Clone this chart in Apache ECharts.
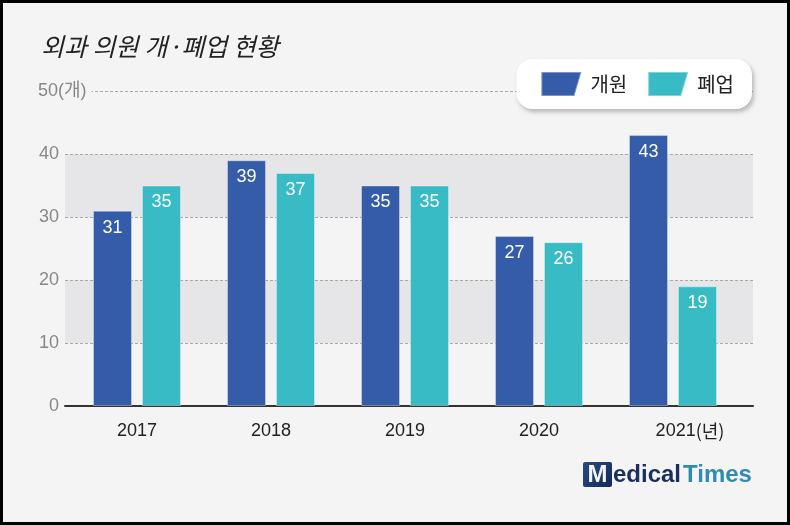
<!DOCTYPE html>
<html>
<head>
<meta charset="utf-8">
<script src="https://cdn.jsdelivr.net/npm/echarts@6/dist/echarts.min.js"></script>
<style>
  html, body { margin: 0; padding: 0; background: #f4f4f4; }
  #wrap { position: relative; width: 790px; height: 525px; }
  #chart { position: absolute; left: 0; top: 0; width: 790px; height: 525px; }
  #frame { position: absolute; left: 0; top: 0; width: 790px; height: 525px; box-sizing: border-box; border: 3px solid #000; pointer-events: none; }
</style>
</head>
<body>
<div id="wrap"><div id="chart"></div><div id="frame"></div></div>
<script>
const titleText = '외과 의원 개·폐업 현황';
const years = ['2017', '2018', '2019', '2020', '2021'];
const seriesNames = ['개원', '폐업'];
const openValues = [31, 39, 35, 27, 43];
const closeValues = [35, 37, 35, 26, 19];
const yTicks = [0, 10, 20, 30, 40, 50];
const yUnit = '(개)';
const yearUnit = '(년)';

const FONT = "'Liberation Sans', 'Noto Sans CJK KR', sans-serif";
const BLUE = '#345ca8';
const TEAL = '#38bbc4';

const chart = echarts.init(document.getElementById('chart'), null, { renderer: 'canvas' });

const option = {
  backgroundColor: '#f4f4f4',
  animation: false,
  textStyle: { fontFamily: FONT },
  title: {
    text: titleText,
    left: 36,
    top: 29,
    textStyle: { fontFamily: "'Noto Sans CJK KR', sans-serif", fontSize: 25, fontWeight: 'normal', fontStyle: 'italic', color: '#222' }
  },
  legend: {
    right: 38,
    top: 59,
    data: seriesNames,
    icon: 'path://M0,0L40,0L33,24L0,24Z',
    itemWidth: 40,
    itemHeight: 24,
    itemGap: 20,
    padding: [12, 18, 12, 24],
    backgroundColor: '#ffffff',
    borderRadius: 16,
    shadowColor: 'rgba(0,0,0,0.25)',
    shadowBlur: 4,
    shadowOffsetX: 2,
    shadowOffsetY: 3,
    textStyle: { fontFamily: "'Noto Sans CJK KR', sans-serif", fontSize: 20, color: '#222', padding: [0, 0, 0, 4] }
  },
  grid: [
    { left: 65, right: 37, top: 91, bottom: 119 },
    { left: 70, right: 50, top: 91, bottom: 119 }
  ],
  xAxis: [
    {
      gridIndex: 0, type: 'value', min: 0, max: 1,
      axisLine: { show: true, onZero: false, lineStyle: { color: '#333', width: 2 } },
      axisTick: { show: false }, axisLabel: { show: false }, splitLine: { show: false }
    },
    {
      gridIndex: 1, type: 'category', data: years,
      axisLine: { show: false }, axisTick: { show: false },
      axisLabel: {
        interval: 0,
        margin: 16,
        fontSize: 18,
        color: '#222',
        formatter: function (v, i) {
          return i === years.length - 1 ? '{s|}{y|' + v + '}{u|' + yearUnit + '}' : v;
        },
        rich: {
          s: { width: 34, fontSize: 18 },
          y: { fontSize: 18, color: '#222', fontFamily: FONT },
          u: { fontSize: 18, color: '#222', fontFamily: "'Noto Sans CJK KR', sans-serif" }
        }
      }
    }
  ],
  yAxis: [
    {
      gridIndex: 0, type: 'value', min: yTicks[0], max: yTicks[yTicks.length - 1], interval: 10,
      axisLine: { show: false }, axisTick: { show: false },
      splitLine: { show: true, lineStyle: { color: '#a9a9a9', type: [3, 2], width: 1 } },
      splitArea: { show: true, areaStyle: { color: ['rgba(0,0,0,0)', '#e6e6e8'] } },
      axisLabel: {
        align: 'left',
        margin: 27,
        formatter: function (v) {
          return v === yTicks[yTicks.length - 1] ? '{u|' + v + yUnit + '}' : '{n|' + v + '}';
        },
        rich: {
          n: { width: 21, align: 'right', fontSize: 18, color: '#888', fontFamily: FONT },
          u: { fontSize: 18, color: '#888', fontFamily: FONT, backgroundColor: '#f4f4f4', padding: [0, 5, 0, 0] }
        }
      }
    },
    {
      gridIndex: 1, type: 'value', min: yTicks[0], max: yTicks[yTicks.length - 1],
      show: false, splitLine: { show: false }
    }
  ],
  series: [
    {
      name: seriesNames[0], type: 'bar', xAxisIndex: 1, yAxisIndex: 1,
      data: openValues, barWidth: 39, barGap: '25.6%',
      itemStyle: { color: BLUE, borderColor: 'rgba(255,255,255,0.35)', borderWidth: 1 },
      label: { show: true, position: 'insideTop', distance: 8, color: '#fff', fontSize: 18, fontFamily: FONT }
    },
    {
      name: seriesNames[1], type: 'bar', xAxisIndex: 1, yAxisIndex: 1,
      data: closeValues, barWidth: 39, barGap: '25.6%',
      itemStyle: { color: TEAL, borderColor: 'rgba(255,255,255,0.35)', borderWidth: 1 },
      label: { show: true, position: 'insideTop', distance: 8, color: '#fff', fontSize: 18, fontFamily: FONT }
    }
  ],
  graphic: [
    {
      type: 'group', left: 583, top: 462,
      children: [
        { type: 'rect', shape: { x: 0, y: 0, width: 29, height: 25, r: 2 },
          style: { fill: new echarts.graphic.LinearGradient(0, 0, 1, 1, [{ offset: 0, color: '#2a4a85' }, { offset: 1, color: '#142a55' }]) } },
        { type: 'text', x: 14.5, y: 13, style: { text: 'M', fill: '#f2f4f8', font: "bold 24px 'Liberation Sans'", align: 'center', verticalAlign: 'middle' } },
        { type: 'text', x: 30, y: 13, style: { text: 'edical', fill: '#1b2f5c', font: "bold 24px 'Liberation Sans'", align: 'left', verticalAlign: 'middle' } },
        { type: 'text', x: 100, y: 13, style: { text: 'Times', fill: '#2e8cb4', font: "bold 24px 'Liberation Sans'", align: 'left', verticalAlign: 'middle' } }
      ]
    }
  ]
};

chart.setOption(option);
</script>
</body>
</html>
